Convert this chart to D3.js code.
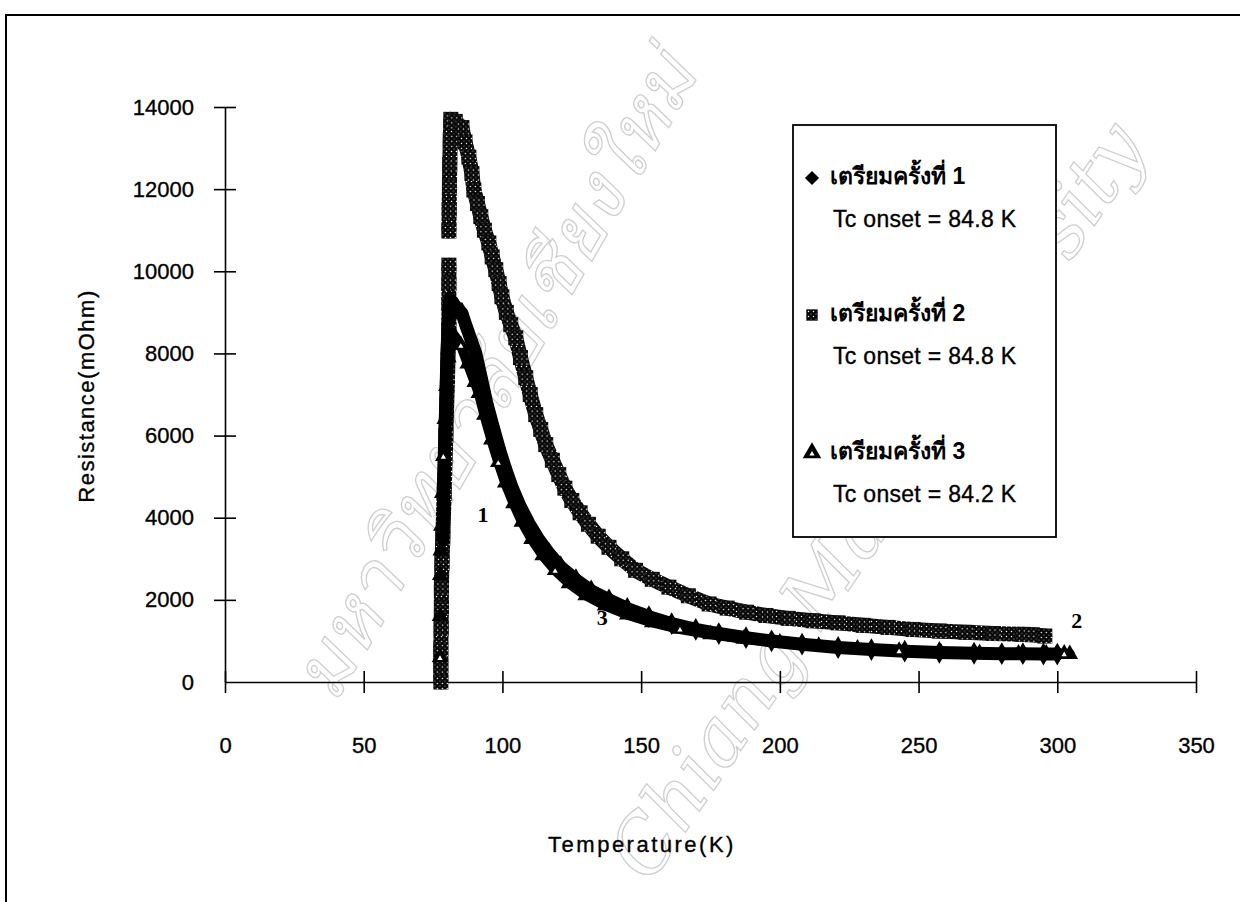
<!DOCTYPE html>
<html lang="th">
<head>
    <meta charset="UTF-8">
    <title>Resistance vs Temperature</title>
    <script src="https://cdnjs.cloudflare.com/ajax/libs/d3/7.8.5/d3.min.js"></script>
    <style>
        * { margin: 0; padding: 0; box-sizing: border-box; }
        body { background: #fff; width: 1240px; height: 902px; overflow: hidden; }
        svg { display: block; font-family: 'Liberation Sans', Arial, sans-serif; }
        .tick text { font-size: 22px; fill: #000; stroke: #000; stroke-width: 0.35px; }
        .domain, .tick line { stroke: #000; stroke-width: 1.6px; }
        .heavy { stroke: #000; stroke-width: 0.35px; }
        .mark { fill: none; stroke: #cfcfcf; stroke-width: 1.3px; font-style: italic; }
    </style>
</head>
<body>
    <svg id="chart" width="1240" height="902"></svg>

    <script>
        // Sample 2 (squares) – temperature (K) and resistance (mOhm); null = gap in the run
        const temp2 = [77.8, 77.8, 77.8, 77.9, 78.0, 78.0, 78.2, 78.5, 79.0, 79.6, 80.2, 80.7, 80.7, 80.7, 80.7,
            80.7, 80.7, 80.8, 80.9, 81.0, 81.2, 81.4, 83.0, 85.4, 86.5, 87.9, 89.0, 89.7, 91.0, 92.2, 93.5, 95.1,
            96.3, 97.6, 98.8, 99.8, 101.4, 103.0, 104.8, 106.5, 108.4, 110.0, 112.0, 113.8, 115.6, 118.0,
            120.3, 122.5, 125.0, 128.0, 131.0, 134.5, 138.4, 143.0, 148.0, 154.0, 160.0, 167.0, 174.5,
            181.0, 188.0, 195.0, 203.0, 212.0, 221.0, 230.0, 239.0, 248.0, 257.5, 267.0, 277.0, 287.6, 291.0, 295.5];
        const res2 = [0, 400, 800, 1300, 1800, 2300, 2900, 3500, 4600, 6000, 7400, 8600, 9200, 9700, 10150,
            null, 10980, 11500, 12050, 12600, 13200, 13700, 13650, 13500, 13150, 12780, 12380, 11980, 11650, 11330, 11000, 10690,
            10350, 10040, 9700, 9380, 9000, 8700, 8380, 7900, 7410, 7000, 6510, 6150, 5780, 5400,
            5050, 4720, 4420, 4120, 3840, 3550, 3280, 3000, 2720, 2500, 2310, 2100, 1900,
            1800, 1700, 1620, 1550, 1490, 1440, 1380, 1330, 1280, 1240, 1210, 1180, 1160, 1150, 1120];

        // Sample 1 (diamonds)
        const temp1 = [78.6, 78.8, 79.2, 79.6, 80.0, 80.5, 81.0, 82.0, 83.5, 85.4, 87.0, 88.7,
            90.4, 92.4, 94.4, 96.5, 98.7, 101.0, 103.4, 106.3, 109.5, 113.0, 116.7, 121.0, 126.5, 132.0,
            138.4, 145.0, 152.8, 161.0, 169.7, 178.0, 187.8, 197.0, 208.0, 221.0, 233.0, 245.0, 257.5,
            270.0, 280.0, 287.6, 295.0, 300.0];
        const res1 = [3500, 4600, 5800, 6900, 8000, 8900, 9300, 9250, 9100, 8980, 8650, 8330,
            8000, 7400, 6780, 6250, 5720, 5220, 4750, 4290, 3870, 3480, 3140, 2800, 2490, 2220,
            2000, 1790, 1590, 1420, 1280, 1180, 1080, 1000, 920, 840, 790, 750, 720,
            700, 690, 690, 680, 680];

        // Sample 3 (triangles)
        const temp3 = [77.5, 77.5, 77.6, 77.8, 78.0, 78.3, 78.7, 79.2, 79.8, 80.5, 81.5, 83.0, 85.0, 87.5,
            90.0, 91.5, 93.5, 96.0, 98.5, 101.0, 104.0, 107.0, 110.5, 114.5, 119.0, 124.0, 130.0, 137.0,
            145.0, 154.0, 164.0, 175.0, 187.0, 200.0, 214.0, 228.0, 243.0, 258.0, 272.0, 286.0, 296.0,
            300.0, 302.5, 304.5];
        const res3 = [600, 1600, 2600, 3200, 3800, 4600, 5500, 6400, 7200, 7900, 8300, 8400, 8200, 7750,
            7300, 7030, 6500, 5900, 5350, 4850, 4350, 3900, 3480, 3080, 2720, 2400, 2110, 1860,
            1640, 1450, 1290, 1160, 1050, 960, 880, 810, 760, 720, 700, 690, 690,
            700, 690, 680];

        const xTicks = [0, 50, 100, 150, 200, 250, 300, 350];
        const yTicks = [0, 2000, 4000, 6000, 8000, 10000, 12000, 14000];

        const legendNames = ['เตรียมครั้งที่ 1', 'เตรียมครั้งที่ 2', 'เตรียมครั้งที่ 3'];
        const legendTc = ['Tc onset = 84.8 K', 'Tc onset = 84.8 K', 'Tc onset = 84.2 K'];

        // curve number labels: [label, T, R]
        const curveLabels = [['1', 93, 3900], ['3', 136, 1380], ['2', 307, 1320]];

        const svg = d3.select('#chart');

        const x = d3.scaleLinear().domain([0, 350]).range([225, 1196]);
        const y = d3.scaleLinear().domain([0, 14000]).range([682, 107]);

        // dotted fill used for the square markers
        const defs = svg.append('defs');
        const pat = defs.append('pattern')
            .attr('id', 'dots')
            .attr('patternUnits', 'userSpaceOnUse')
            .attr('width', 5).attr('height', 5);
        pat.append('rect').attr('width', 5).attr('height', 5).attr('fill', '#050505');
        pat.append('circle').attr('cx', 1.5).attr('cy', 1.5).attr('r', 0.75).attr('fill', '#fff');
        pat.append('circle').attr('cx', 4).attr('cy', 4).attr('r', 0.55).attr('fill', '#bbb');

        // faint scanned-thesis watermark
        svg.append('text')
            .attr('class', 'mark')
            .attr('transform', 'translate(335,705) rotate(-60)')
            .style('font-size', '78px')
            .text('มหาวิทยาลัยเชียงใหม่');
        svg.append('text')
            .attr('class', 'mark')
            .attr('transform', 'translate(650,885) rotate(-56)')
            .style('font-family', "'DejaVu Serif', serif")
            .style('font-size', '78px')
            .text('Chiang Mai University');

        // outer frame (top and left edges only show in the scan)
        svg.append('path')
            .attr('d', 'M6,902 L6,15 L1240,15')
            .attr('fill', 'none')
            .attr('stroke', '#000')
            .attr('stroke-width', 2);

        // axes
        const xAxis = svg.append('g')
            .attr('transform', `translate(0,${y(0)})`)
            .call(d3.axisBottom(x).tickValues(xTicks).tickFormat(d3.format('d'))
                .tickSizeInner(11).tickSizeOuter(0).tickPadding(44));
        xAxis.selectAll('.tick line').attr('y1', -11).attr('y2', 11);

        const yAxis = svg.append('g')
            .attr('transform', `translate(${x(0)},0)`)
            .call(d3.axisLeft(y).tickValues(yTicks).tickFormat(d3.format('d'))
                .tickSizeInner(11).tickSizeOuter(0).tickPadding(20));
        yAxis.selectAll('.tick line').attr('x1', -11).attr('x2', 11);
        yAxis.selectAll('.tick').filter(d => d === 0).select('line').remove();

        svg.append('text')
            .attr('class', 'heavy')
            .attr('transform', 'translate(94,396) rotate(-90)')
            .attr('text-anchor', 'middle')
            .style('font-size', '22px')
            .style('letter-spacing', '1.5px')
            .text('Resistance(mOhm)');

        svg.append('text')
            .attr('class', 'heavy')
            .attr('x', 642)
            .attr('y', 852)
            .attr('text-anchor', 'middle')
            .style('font-size', '22px')
            .style('letter-spacing', '2.5px')
            .text('Temperature(K)');

        // series
        const toPts = (ts, rs) => ts.map((t, i) => ({ t: t, r: rs[i] }));
        const s1 = toPts(temp1, res1);
        const s2 = toPts(temp2, res2);
        const s3 = toPts(temp3, res3);

        const band = d3.line()
            .defined(d => d.r !== null)
            .x(d => x(d.t))
            .y(d => y(d.r));

        const plot = svg.append('g');

        // dense runs of markers merge into a band; the band starts at index `from`
        function drawSeries(pts, from, stroke, width, shape, size, fill) {
            plot.append('path')
                .datum(pts.slice(from))
                .attr('d', band)
                .attr('fill', 'none')
                .attr('stroke', stroke)
                .attr('stroke-width', width)
                .attr('stroke-linejoin', 'round')
                .attr('stroke-linecap', 'round');
            plot.append('g')
                .selectAll('path')
                .data(pts.filter(d => d.r !== null))
                .join('path')
                .attr('transform', d => `translate(${x(d.t)},${y(d.r)})`)
                .attr('d', d3.symbol().type(shape).size(size))
                .attr('fill', fill);
        }

        drawSeries(s2, 0, 'url(#dots)', 15, d3.symbolSquare, 225, 'url(#dots)');
        drawSeries(s1, 0, '#000', 13, d3.symbolDiamond, 150, '#000');
        drawSeries(s3, 4, '#000', 10, d3.symbolTriangle, 120, '#000');
        // small white centres on some triangles
        plot.append('g')
            .selectAll('path')
            .data(s3.filter((d, i) => i % 6 === 0))
            .join('path')
            .attr('transform', d => `translate(${x(d.t)},${y(d.r) + 1})`)
            .attr('d', d3.symbol().type(d3.symbolTriangle).size(12))
            .attr('fill', '#fff');

        svg.append('g')
            .selectAll('text')
            .data(curveLabels)
            .join('text')
            .attr('x', d => x(d[1]))
            .attr('y', d => y(d[2]))
            .attr('text-anchor', 'middle')
            .style('font-family', "'Liberation Serif', 'Times New Roman', serif")
            .style('font-weight', 'bold')
            .style('font-size', '22px')
            .text(d => d[0]);

        // legend
        const legend = svg.append('g');
        legend.append('rect')
            .attr('x', 793).attr('y', 125)
            .attr('width', 263).attr('height', 412)
            .attr('fill', '#fff')
            .attr('stroke', '#000')
            .attr('stroke-width', 1.8);

        const legendShapes = [
            { type: d3.symbolSquare, size: 100, fill: '#000', rot: 45 },
            { type: d3.symbolSquare, size: 130, fill: 'url(#dots)', rot: 0 },
            { type: d3.symbolTriangle, size: 150, fill: '#000', rot: 0 }
        ];
        const rowY = [184, 321, 459];

        legendNames.forEach((name, i) => {
            const g = legend.append('g');
            g.append('path')
                .attr('transform', `translate(812,${rowY[i] - 6}) rotate(${legendShapes[i].rot})`)
                .attr('d', d3.symbol().type(legendShapes[i].type).size(legendShapes[i].size))
                .attr('fill', legendShapes[i].fill);
            if (i === 2) {
                g.append('path')
                    .attr('transform', `translate(812,${rowY[i] - 5})`)
                    .attr('d', d3.symbol().type(d3.symbolTriangle).size(12))
                    .attr('fill', '#fff');
            }
            g.append('text')
                .attr('x', 830).attr('y', rowY[i])
                .style('font-size', '23px')
                .style('font-weight', 'bold')
                .text(name);
            g.append('text')
                .attr('class', 'heavy')
                .attr('x', 833).attr('y', rowY[i] + 43)
                .style('font-size', '23px')
                .style('letter-spacing', '0.3px')
                .text(legendTc[i]);
        });
    </script>
</body>
</html>
